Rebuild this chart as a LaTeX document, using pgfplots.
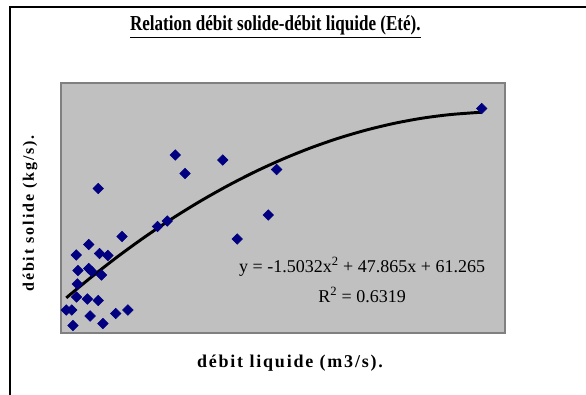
\documentclass[border=0pt]{standalone}
\usepackage{fontspec}
\setmainfont{Liberation Serif}
\newfontfamily\titlefont[FakeStretch=0.8]{Liberation Serif}
\newfontfamily\labfont[LetterSpace=12]{Liberation Serif}
\newfontfamily\xlabfont[LetterSpace=10]{Liberation Serif}
\usepackage{pgfplots}
\pgfplotsset{compat=1.18}
\definecolor{plotbg}{RGB}{192,192,192}
\definecolor{plotedge}{RGB}{128,128,128}
\definecolor{navy}{RGB}{0,0,128}

\begin{document}
\begin{tikzpicture}
% page: 586 x 394 px at 0.75pt per px
\useasboundingbox (0pt,0pt) rectangle (439.5pt,-295.5pt);
\fill[white] (0pt,0pt) rectangle (439.5pt,-295.5pt);
\draw[line width=1.5pt] (7.5pt,-320pt) -- (7.5pt,-5.25pt) -- (460pt,-5.25pt);

\node at (206.5pt,-20pt) {\titlefont\fontsize{16}{18}\selectfont\bfseries\underline{Relation débit solide-débit liquide (Eté).}};
\node[rotate=90] at (22.5pt,-160pt) {\labfont\fontsize{12}{14}\selectfont\bfseries débit solide (kg/s).};
\node at (217.5pt,-272.5pt) {\xlabfont\fontsize{13.5}{15}\selectfont\bfseries débit liquide (m3/s).};

\begin{axis}[
    at={(45.75pt,-249.75pt)}, anchor=south west,
    scale only axis,
    width=333pt, height=187.5pt,
    xmin=0, xmax=16,
    ymin=0, ymax=500,
    ticks=none,
    axis background/.style={fill=plotbg},
    axis line style={draw=plotedge, line width=1.5pt},
    clip=false,
]
% observations
\addplot[only marks, mark=square*, mark size=2.8pt,
    mark options={rotate=45, fill=navy, draw=navy}]
    coordinates {
    (4.12,356)(5.83,346)(4.47,319)(7.77,327)(1.34,289)(7.47,236)
    (6.35,188)(3.48,213)(3.83,224)(2.20,193)(1.00,177)(0.55,156)
    (1.39,159)(1.69,155)(0.61,125)(1.00,129)(1.11,123)(1.46,116)
    (0.59,98)(0.56,72)(0.95,68)(1.34,65)(0.19,46)(0.39,46)
    (1.97,39)(2.41,46)(1.05,34)(0.43,15)(1.51,19)(15.16,449)
    };
% polynomial trend line (order 2)
\addplot[black, line width=2.2pt, smooth]
    coordinates {
    (0.19,70.3)(1,107.6)(2,151.0)(3,191.3)(4,228.7)(5,263.0)(6,294.3)
    (7,322.7)(8,348.0)(9,370.3)(10,389.6)(11,405.9)(12,419.2)
    (13,429.5)(14,436.7)(15,441.0)(15.16,441.4)
    };
\node[font=\fontsize{13.5}{15}\selectfont] at (axis cs:10.85,132) {y = -1.5032x\textsuperscript{2} + 47.865x + 61.265};
\node[font=\fontsize{13.5}{15}\selectfont] at (axis cs:10.85,76) {R\textsuperscript{2} = 0.6319};
\end{axis}
\end{tikzpicture}
\end{document}
